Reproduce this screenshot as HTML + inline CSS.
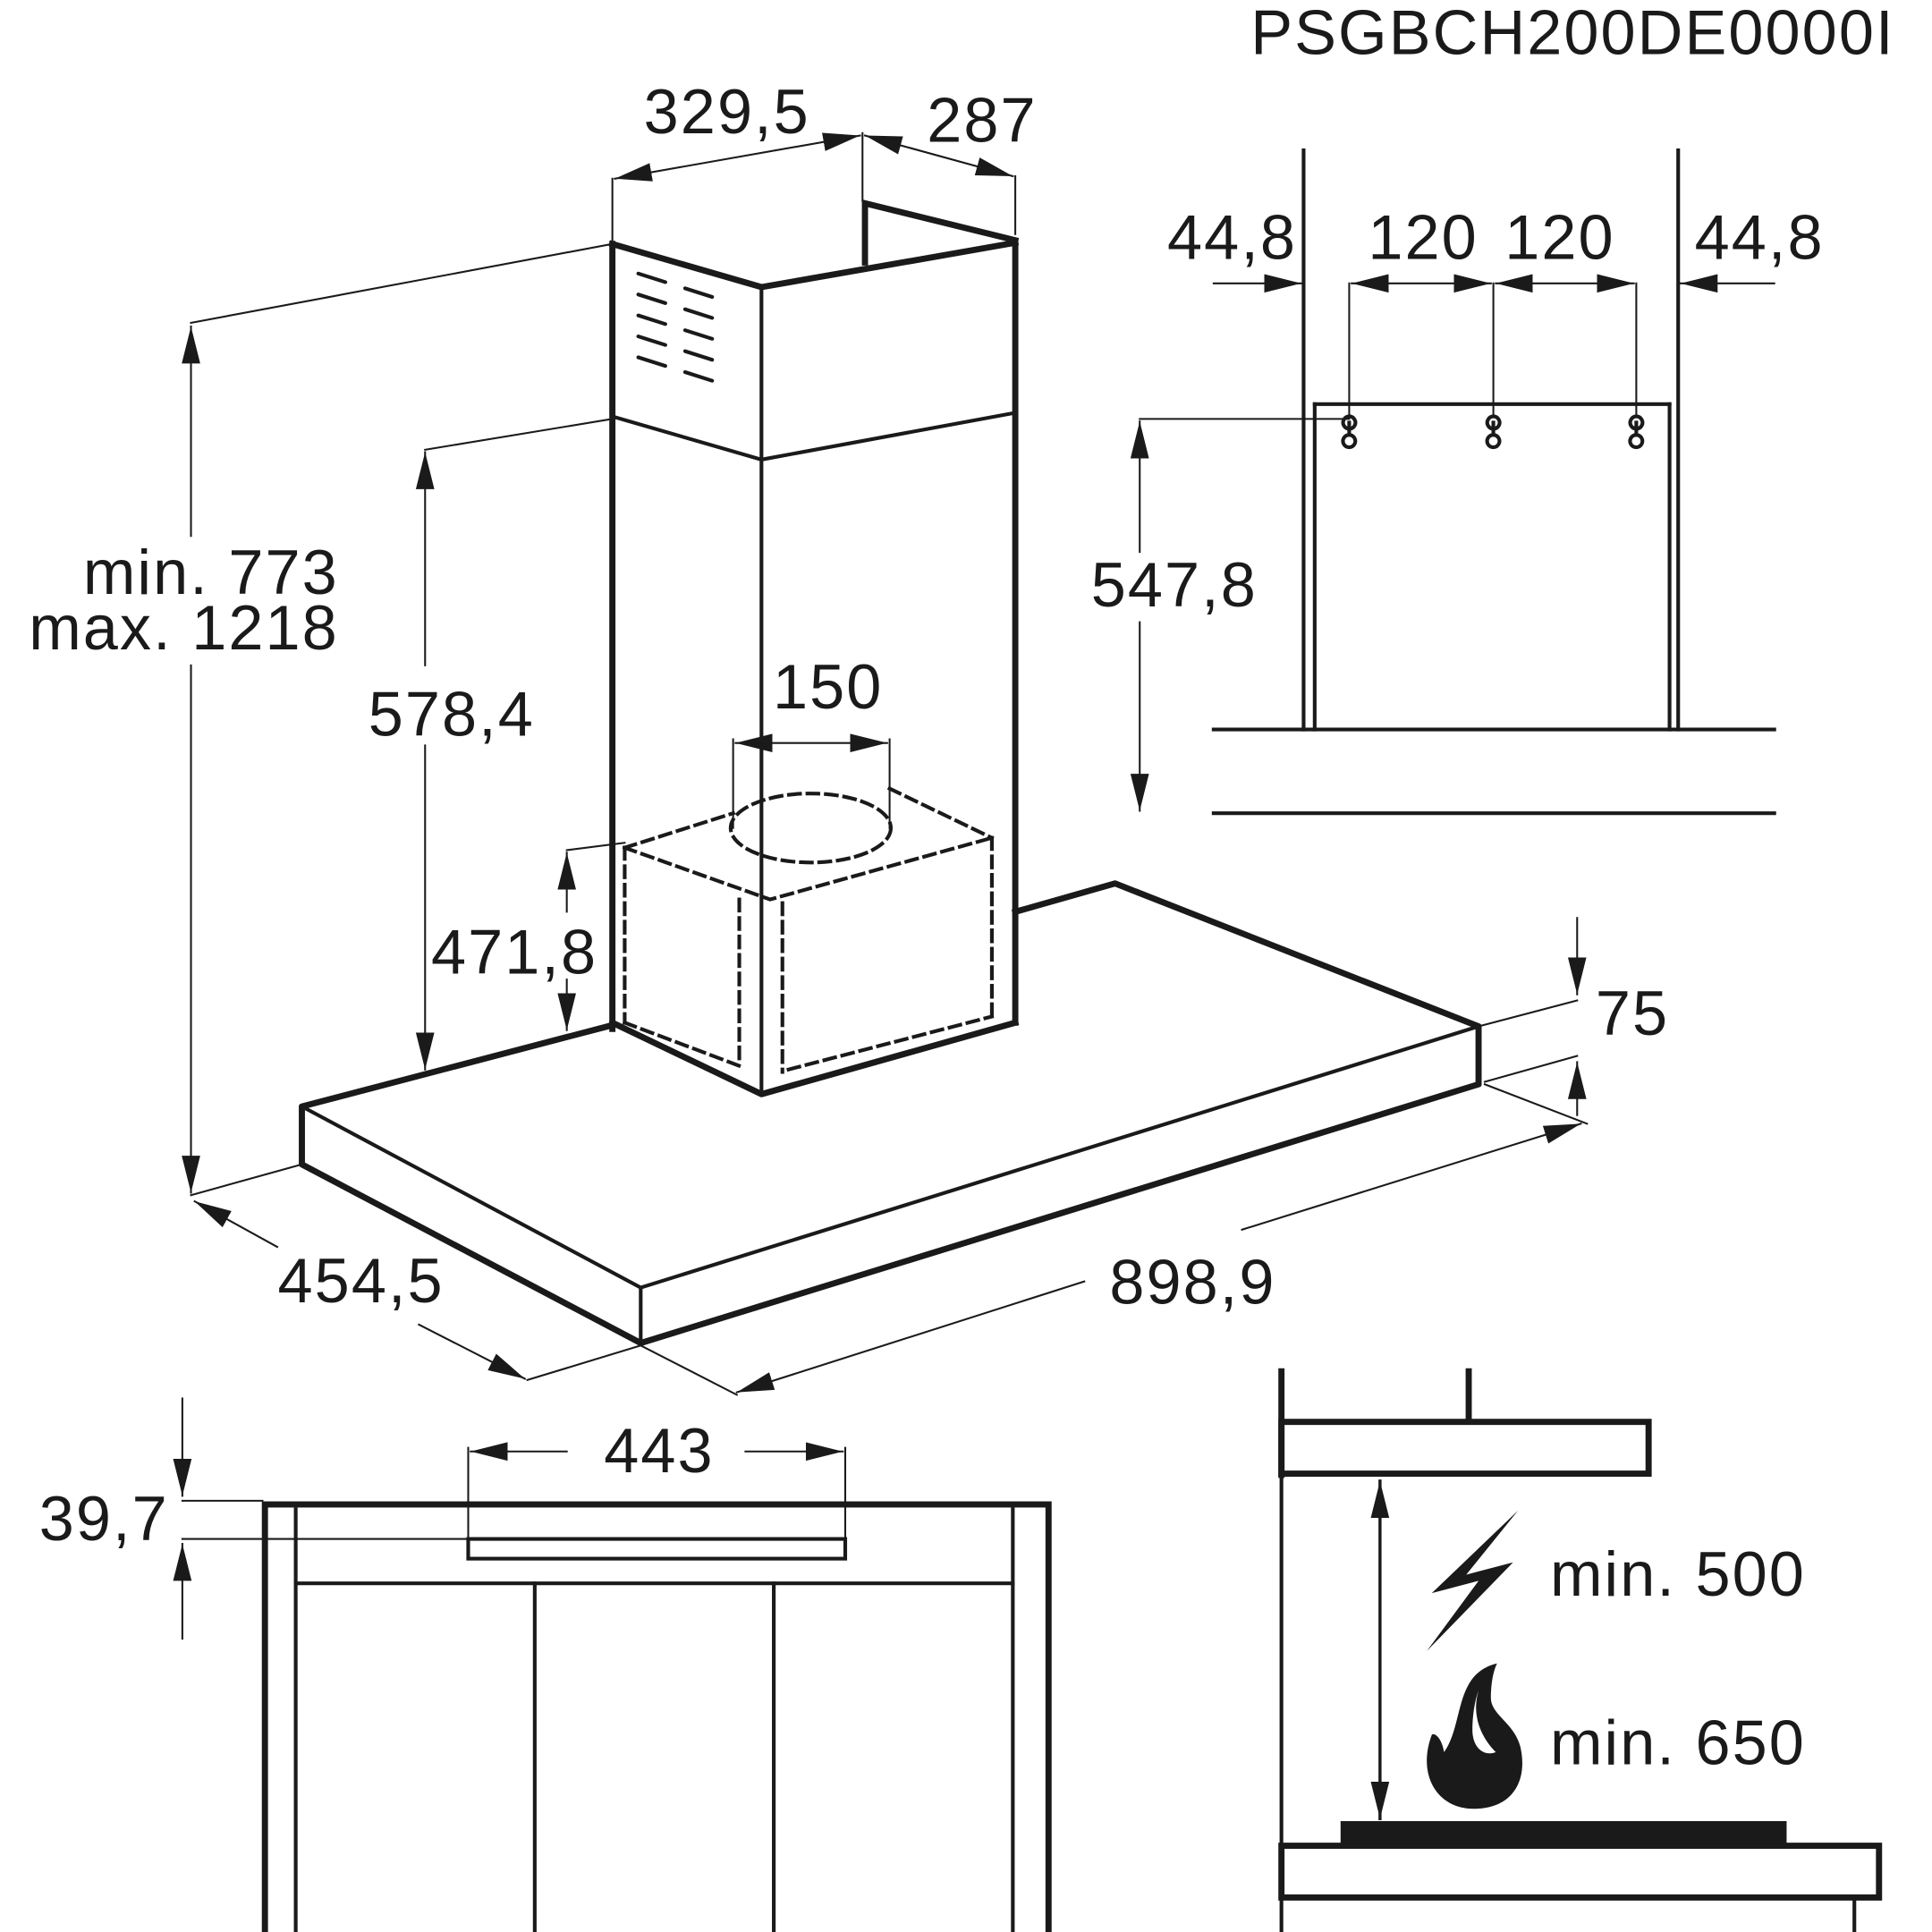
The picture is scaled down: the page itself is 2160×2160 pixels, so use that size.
<!DOCTYPE html>
<html><head><meta charset="utf-8"><style>
html,body{margin:0;padding:0;background:#fff;}
svg{display:block;}
text{font-family:"Liberation Sans",Arial,sans-serif;fill:#1a1a1a;letter-spacing:1.5px;}
</style></head><body>
<svg width="2160" height="2160" viewBox="0 0 1568 1568" preserveAspectRatio="none" xmlns="http://www.w3.org/2000/svg">
<defs>
<marker id="b" viewBox="0 0 10 10" refX="10" refY="5" markerWidth="30" markerHeight="30" markerUnits="userSpaceOnUse" orient="auto-start-reverse">
<path d="M0,2.5 L10,5 L0,7.5 z" fill="#1a1a1a"/></marker>
</defs>
<g stroke="#1a1a1a" fill="none" stroke-linecap="square">
<g stroke-width="5">
<polyline points="497,198 618,233 824,197"/>
<line x1="497" y1="198" x2="497" y2="835"/>
<line x1="824" y1="197" x2="824" y2="830"/>
<polyline points="702,213 702,165 824,195"/>
</g>
<line x1="618" y1="233" x2="618" y2="888" stroke-width="3"/>
<polyline points="497,338 618,373 824,335" stroke-width="3"/>
<g stroke-width="3" stroke-linecap="round">
<line x1="518" y1="239" x2="540" y2="246"/><line x1="518" y1="256" x2="540" y2="263"/><line x1="518" y1="273" x2="540" y2="280"/><line x1="518" y1="290" x2="540" y2="297"/>
<line x1="518" y1="222" x2="540" y2="229"/>
<line x1="556" y1="251" x2="578" y2="258"/><line x1="556" y1="268" x2="578" y2="275"/><line x1="556" y1="285" x2="578" y2="292"/><line x1="556" y1="302" x2="578" y2="309"/><line x1="556" y1="234" x2="578" y2="241"/>
</g>
<g stroke-width="5" stroke-linejoin="round">
<polyline points="497,832 245,898 245,945 520,1090 1200,880 1200,833 905,717 824,740"/>
<polyline points="245,898 520,1045 1200,833" stroke-width="3"/>
<line x1="520" y1="1045" x2="520" y2="1090" stroke-width="3"/>
<polyline points="497,830 618,888 824,830"/>
</g>
<g stroke-width="3" stroke-dasharray="9,6">
<polyline points="507,688 595,660"/><polyline points="722,640 805,680"/>
<polyline points="507,688 625,730 805,680"/>
<line x1="507" y1="688" x2="507" y2="830"/>
<line x1="600" y1="730" x2="600" y2="865"/>
<line x1="635" y1="733" x2="635" y2="870"/>
<line x1="805" y1="680" x2="805" y2="825"/>
<line x1="507" y1="830" x2="600" y2="865"/>
<line x1="640" y1="868" x2="805" y2="825"/>
<ellipse cx="658" cy="672" rx="65" ry="28"/>
</g>
<g stroke-width="1.5">
<line x1="595" y1="600" x2="595" y2="672"/><line x1="722" y1="600" x2="722" y2="672"/>
<line x1="597" y1="603" x2="720" y2="603" marker-start="url(#b)" marker-end="url(#b)"/>
<line x1="497" y1="145" x2="497" y2="196"/><line x1="700" y1="108" x2="700" y2="163"/><line x1="824" y1="143" x2="824" y2="190"/>
<line x1="499" y1="145" x2="698" y2="110" marker-start="url(#b)" marker-end="url(#b)"/>
<line x1="702" y1="110" x2="822" y2="143" marker-start="url(#b)" marker-end="url(#b)"/>
<line x1="497" y1="198" x2="155" y2="262"/>
<line x1="155" y1="265" x2="155" y2="435" marker-start="url(#b)"/>
<line x1="155" y1="540" x2="155" y2="968" marker-end="url(#b)"/>
<line x1="155" y1="970" x2="245" y2="945"/>
<line x1="497" y1="340" x2="345" y2="365"/>
<line x1="345" y1="367" x2="345" y2="540" marker-start="url(#b)"/>
<line x1="345" y1="605" x2="345" y2="868" marker-end="url(#b)"/>
<line x1="507" y1="684" x2="460" y2="690"/>
<line x1="460" y1="692" x2="460" y2="740" marker-start="url(#b)"/>
<line x1="460" y1="795" x2="460" y2="836" marker-end="url(#b)"/>
<line x1="1200" y1="833" x2="1280" y2="812"/>
<line x1="1205" y1="878" x2="1280" y2="857"/>
<line x1="1280" y1="745" x2="1280" y2="807" marker-end="url(#b)"/>
<line x1="1280" y1="905" x2="1280" y2="862" marker-end="url(#b)"/>
<line x1="1205" y1="880" x2="1288" y2="912"/>
<line x1="520" y1="1092" x2="598" y2="1132"/>
<line x1="598" y1="1130" x2="880" y2="1040" marker-start="url(#b)"/>
<line x1="1008" y1="998" x2="1283" y2="912" marker-end="url(#b)"/>
<line x1="520" y1="1092" x2="428" y2="1120"/>
<line x1="158" y1="975" x2="225" y2="1012" marker-start="url(#b)"/>
<line x1="340" y1="1075" x2="426" y2="1119" marker-end="url(#b)"/>
</g>
<g stroke-width="3">
<line x1="1058" y1="122" x2="1058" y2="592"/><line x1="1362" y1="122" x2="1362" y2="592"/>
<line x1="1067" y1="328" x2="1067" y2="592"/><line x1="1355" y1="328" x2="1355" y2="592"/>
<line x1="1067" y1="328" x2="1355" y2="328"/>
<line x1="985" y1="592" x2="1440" y2="592"/><line x1="985" y1="660" x2="1440" y2="660"/>
</g>
<g stroke-width="1.5">
<line x1="985" y1="230" x2="1056" y2="230" marker-end="url(#b)"/>
<line x1="1440" y1="230" x2="1364" y2="230" marker-end="url(#b)"/>
<line x1="1097" y1="230" x2="1210" y2="230" marker-start="url(#b)" marker-end="url(#b)"/>
<line x1="1214" y1="230" x2="1326" y2="230" marker-start="url(#b)" marker-end="url(#b)"/>
<line x1="1095" y1="230" x2="1095" y2="338"/><line x1="1212" y1="230" x2="1212" y2="338"/><line x1="1328" y1="230" x2="1328" y2="338"/>
<line x1="925" y1="340" x2="1095" y2="340"/>
<line x1="925" y1="342" x2="925" y2="448" marker-start="url(#b)"/>
<line x1="925" y1="505" x2="925" y2="658" marker-end="url(#b)"/>
</g>
<g stroke-width="3">
<path d="M1095,338 a5,5 0 1 0 0.1,0 M1095,343 v10 a5,5 0 1 1 -0.1,0"/>
<path d="M1212,338 a5,5 0 1 0 0.1,0 M1212,343 v10 a5,5 0 1 1 -0.1,0"/>
<path d="M1328,338 a5,5 0 1 0 0.1,0 M1328,343 v10 a5,5 0 1 1 -0.1,0"/>
</g>
<rect x="215" y="1221" width="636" height="350" stroke-width="5"/>
<g stroke-width="3">
<line x1="240" y1="1225" x2="240" y2="1568"/><line x1="822" y1="1225" x2="822" y2="1568"/>
<line x1="240" y1="1285" x2="822" y2="1285"/>
<line x1="434" y1="1285" x2="434" y2="1568"/><line x1="628" y1="1285" x2="628" y2="1568"/>
<rect x="380" y="1249" width="306" height="16"/>
</g>
<g stroke-width="1.5">
<line x1="380" y1="1175" x2="380" y2="1249"/><line x1="686" y1="1175" x2="686" y2="1249"/>
<line x1="460" y1="1178" x2="382" y2="1178" marker-end="url(#b)"/>
<line x1="605" y1="1178" x2="684" y2="1178" marker-end="url(#b)"/>
<line x1="148" y1="1218" x2="213" y2="1218"/><line x1="148" y1="1249" x2="380" y2="1249"/>
<line x1="148" y1="1135" x2="148" y2="1214" marker-end="url(#b)"/>
<line x1="148" y1="1330" x2="148" y2="1253" marker-end="url(#b)"/>
</g>
<g stroke-width="5">
<line x1="1040" y1="1113" x2="1040" y2="1197"/>
<line x1="1192" y1="1113" x2="1192" y2="1152"/>
<rect x="1040" y="1154" width="298" height="42"/>
<rect x="1040" y="1498" width="485" height="42"/>
</g>
<line x1="1040" y1="1197" x2="1040" y2="1568" stroke-width="3"/>
<line x1="1505" y1="1540" x2="1505" y2="1568" stroke-width="3"/>
<line x1="1120" y1="1202" x2="1120" y2="1476" stroke-width="2.5" marker-start="url(#b)" marker-end="url(#b)"/>
</g>
<rect x="1088" y="1478" width="362" height="18" fill="#1a1a1a"/>
<path d="M1232,1226 L1162,1293 L1200,1283 L1158,1340 L1228,1268 L1190,1278 Z" fill="#1a1a1a"/>
<path d="M1215,1350 C1180,1358 1188,1400 1172,1422 C1170,1410 1164,1406 1162,1408 C1150,1440 1166,1468 1196,1468 C1228,1468 1240,1445 1234,1418 C1229,1398 1210,1392 1210,1378 C1210,1366 1212,1356 1215,1350 Z M1200,1372 C1194,1392 1202,1410 1214,1422 C1204,1426 1195,1418 1195,1404 C1195,1392 1197,1380 1200,1372 Z" fill="#1a1a1a" fill-rule="evenodd"/>
<g font-size="51">
<text x="1015" y="44">PSGBCH200DE0000I</text>
<text x="590" y="108" text-anchor="middle">329,5</text>
<text x="797" y="115" text-anchor="middle">287</text>
<text x="275" y="482" text-anchor="end">min. 773</text>
<text x="275" y="527" text-anchor="end">max. 1218</text>
<text x="434" y="597" text-anchor="end">578,4</text>
<text x="672" y="575" text-anchor="middle">150</text>
<text x="485" y="790" text-anchor="end">471,8</text>
<text x="1295" y="840">75</text>
<text x="968" y="1058" text-anchor="middle">898,9</text>
<text x="293" y="1057" text-anchor="middle">454,5</text>
<text x="1000" y="210" text-anchor="middle">44,8</text>
<text x="1155" y="210" text-anchor="middle">120</text>
<text x="1266" y="210" text-anchor="middle">120</text>
<text x="1428" y="210" text-anchor="middle">44,8</text>
<text x="953" y="492" text-anchor="middle">547,8</text>
<text x="535" y="1195" text-anchor="middle">443</text>
<text x="137" y="1250" text-anchor="end">39,7</text>
<text x="1258" y="1295">min. 500</text>
<text x="1258" y="1432">min. 650</text>
</g>
</svg>
</body></html>
